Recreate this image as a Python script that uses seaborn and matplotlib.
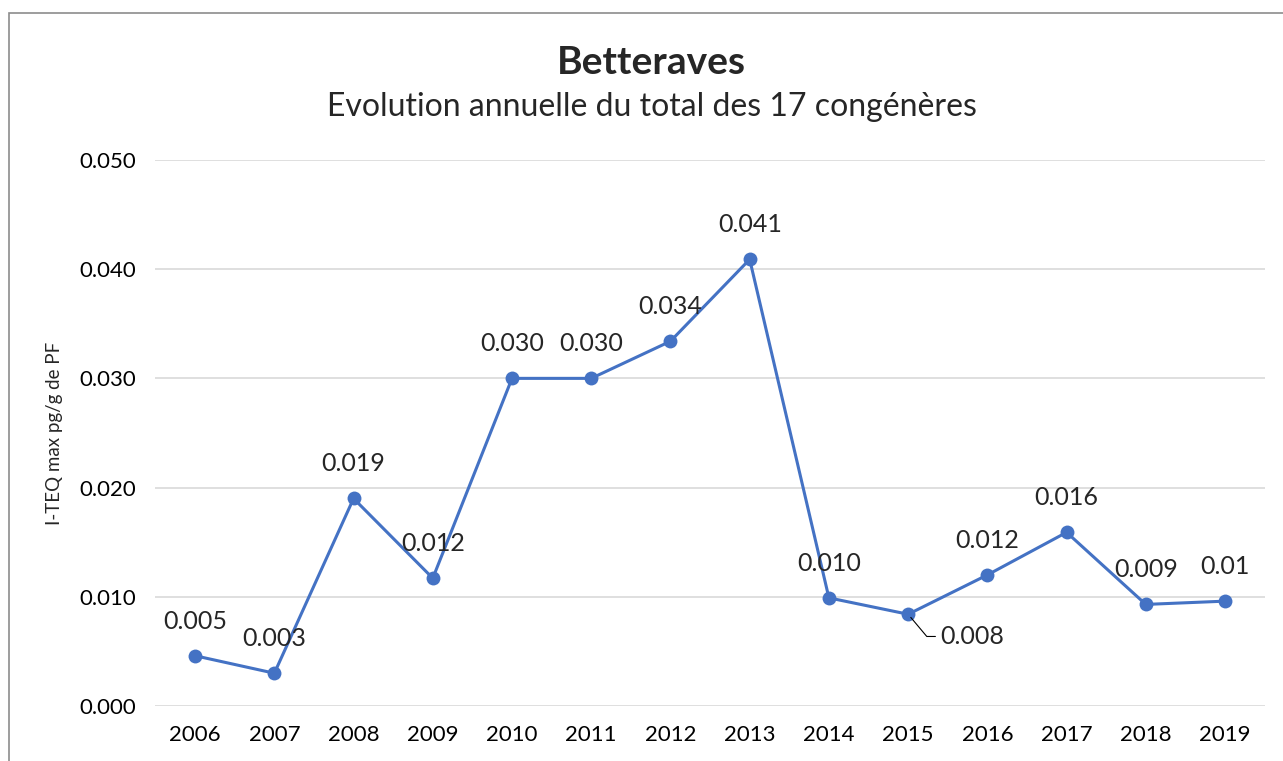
import seaborn as sns
import pandas as pd
import matplotlib.pyplot as plt
from matplotlib.patches import Rectangle

years = [2006, 2007, 2008, 2009, 2010, 2011, 2012, 2013, 2014, 2015, 2016, 2017, 2018, 2019]
values = [0.0046, 0.0030, 0.0190, 0.0117, 0.0300, 0.0300, 0.0334, 0.0409, 0.0099, 0.0084, 0.0120, 0.0159, 0.0093, 0.0096]
labels = ["0.005", "0.003", "0.019", "0.012", "0.030", "0.030", "0.034", "0.041",
          "0.010", "0.008", "0.012", "0.016", "0.009", "0.01"]
yticks = [0.0, 0.01, 0.02, 0.03, 0.04, 0.05]

sns.set_style("white")
plt.rcParams['font.family'] = ['Lato', 'DejaVu Sans']

df = pd.DataFrame({"year": years, "value": values})

fig = plt.figure(figsize=(12.83, 7.61), dpi=100)
ax = fig.add_axes([0.1212, 0.0723, 0.8645, 0.7175])

# chart frame like the Excel export
fig.patches.append(Rectangle((9 / 1283, -0.1), 1.2, 1 - 13 / 761 + 0.1, transform=fig.transFigure,
                             fill=False, edgecolor="#8c8c8c", linewidth=1.2))

sns.lineplot(data=df, x="year", y="value", ax=ax, color="#4472C4", linewidth=2.2,
             marker="o", markersize=10, markeredgewidth=0)

ax.set_xlim(2005.5, 2019.5)
ax.set_ylim(0, 0.05)
ax.set_xticks(years)
ax.set_xticklabels([str(y) for y in years])
ax.set_yticks(yticks)
ax.set_yticklabels([f"{t:.3f}" for t in yticks])
ax.tick_params(axis="both", labelsize=16, length=0, colors="#000000")
ax.tick_params(axis="y", pad=14)
ax.tick_params(axis="x", pad=14)
ax.yaxis.grid(True, color="#d9d9d9", linewidth=1.2)
ax.set_axisbelow(True)
for s in ax.spines.values():
    s.set_visible(False)

ax.set_xlabel("")
ax.set_ylabel("I-TEQ max pg/g de PF", fontsize=13.5, labelpad=12)

for x, y, lab in zip(years, values, labels):
    if lab == "0.008" and x == 2015:
        ax.annotate(lab, xy=(x, y), xytext=(23, -16), textcoords="offset points", fontsize=18,
                    ha="left", va="center",
                    arrowprops=dict(arrowstyle="-", color="black", lw=0.8,
                                    connectionstyle="angle,angleA=0,angleB=-50,rad=0",
                                    shrinkA=1, shrinkB=3))
    else:
        ax.annotate(lab, xy=(x, y), xytext=(0, 25), textcoords="offset points",
                    fontsize=18, ha="center", va="center")

fig.text(0.508, 0.918, "Betteraves", ha="center", va="center", fontsize=28, fontweight="bold")
fig.text(0.508, 0.86, "Evolution annuelle du total des 17 congénères", ha="center", va="center",
         fontsize=23)

fig.savefig("out.png", dpi=100)
